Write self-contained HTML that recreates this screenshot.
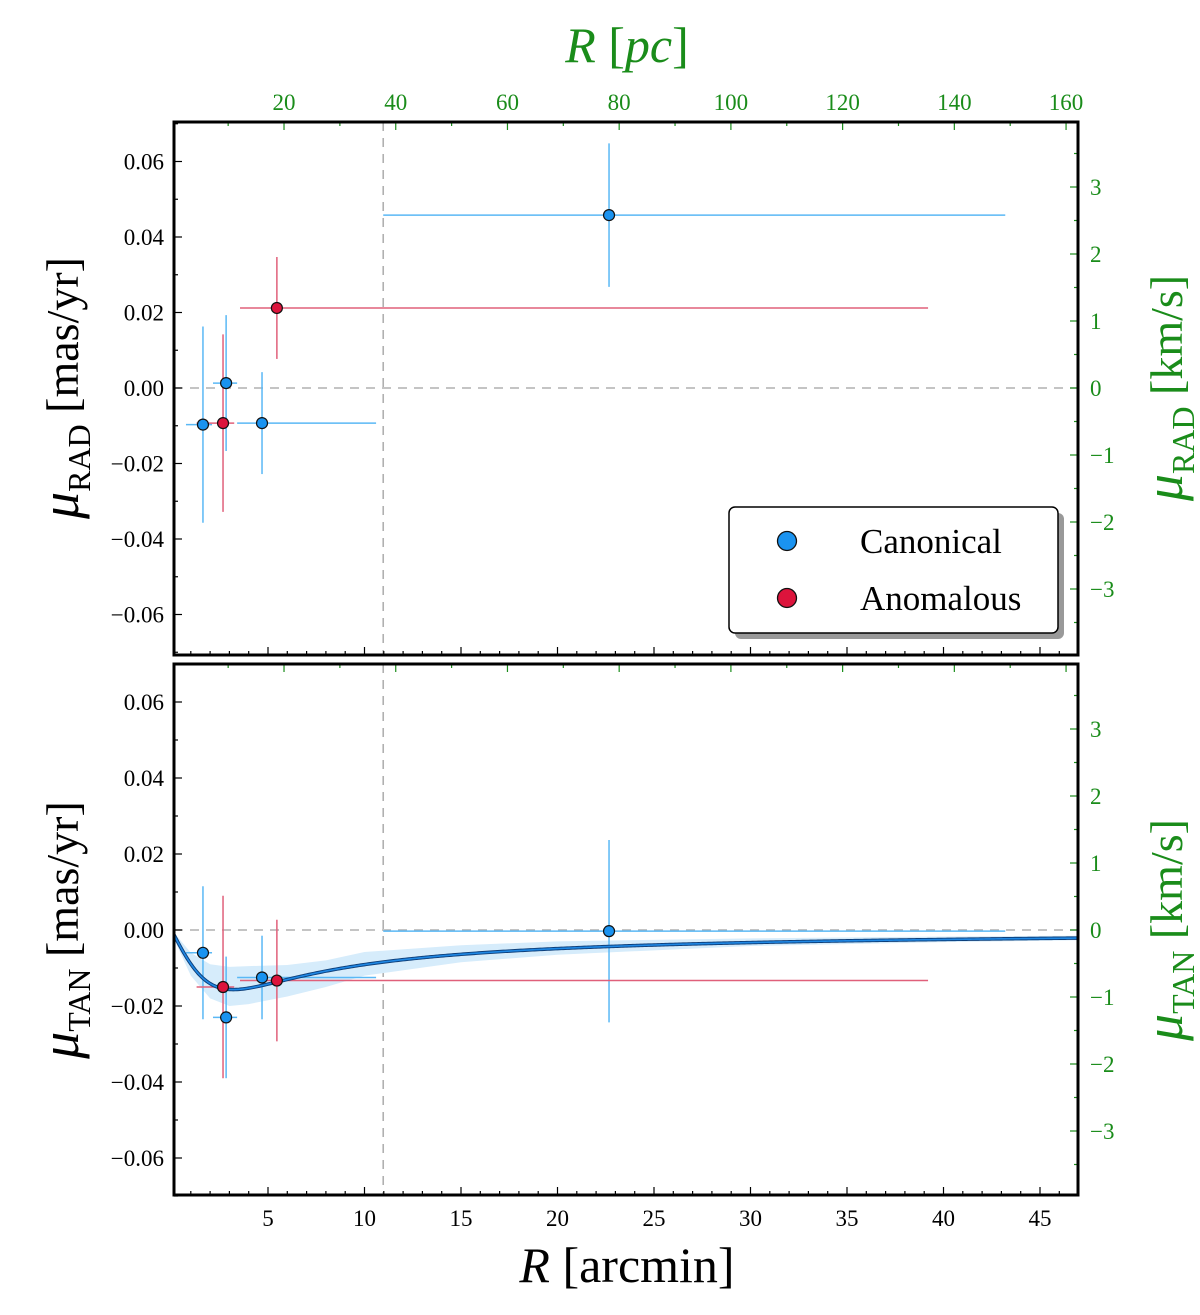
<!DOCTYPE html>
<html><head><meta charset="utf-8"><style>
body{margin:0;background:#fff}
svg text{font-family:"Liberation Serif",serif}
</style></head><body>
<svg id="c" width="1200" height="1310" xmlns="http://www.w3.org/2000/svg"></svg>
<script>
// ---- data ----
const canonR=[1.63,2.83,4.69,22.67];
const canonRlo=[0.75,2.15,3.4,10.97];
const canonRhi=[2.1,3.4,10.6,43.2];
const canonRad=[-0.0097,0.0013,-0.0093,0.0458];
const canonRadErr=[0.026,0.018,0.0135,0.019];
const canonTan=[-0.006,-0.023,-0.0125,-0.0003];
const canonTanErr=[0.0175,0.016,0.011,0.024];
const anomR=[2.67,5.46];
const anomRlo=[1.3,3.55];
const anomRhi=[3.25,39.2];
const anomRad=[-0.0093,0.0212];
const anomRadErr=[0.0235,0.0135];
const anomTan=[-0.015,-0.0133];
const anomTanErr=[0.024,0.016];
const bandR=[0.1,1,2,3,4,6,8,10,15,20,30,40,47];
const bandLo=[-0.002,-0.012,-0.018,-0.020,-0.0195,-0.0175,-0.015,-0.012,-0.0085,-0.0065,-0.0042,-0.0032,-0.0027];
const bandHi=[-0.0005,-0.006,-0.009,-0.0097,-0.0095,-0.0092,-0.008,-0.0058,-0.004,-0.003,-0.0022,-0.0017,-0.0015];
const modelK=[0.0098];
const modelRc=[3.2];
const xTicks=[5,10,15,20,25,30,35,40,45];
const pcTicks=[20,40,60,80,100,120,140,160];
const yTicks=[0.06,0.04,0.02,0.00,-0.02,-0.04,-0.06];
const yTickLabels=["0.06","0.04","0.02","0.00","\u22120.02","\u22120.04","\u22120.06"];
const kmsTicks=[3,2,1,0,-1,-2,-3];
const kmsLabels=["3","2","1","0","\u22121","\u22122","\u22123"];

const svg=document.getElementById('c');
const NS='http://www.w3.org/2000/svg';
function el(t,a,p){const e=document.createElementNS(NS,t);for(const k in a)e.setAttribute(k,a[k]);(p||svg).appendChild(e);return e;}
const L=174,R=1078;
const X=r=>171.5+r*19.3;
const PC=p=>172.3+p*5.586;
const panels=[{top:122,bot:655,c:388,s:3775,kc:388,ks:67,name:'rad'},{top:664,bot:1195,c:930,s:3800,kc:930,ks:67,name:'tan'}];
const BLUE='#1a93f0',RED='#dc143c',EBLUE='#5ab8f5',ERED='#e0607a',GREEN='#1a8c1a';

panels.forEach((P,pi)=>{
  const Y=v=>P.c-v*P.s;
  const K=v=>P.kc-v*P.ks;
  const g=el('g',{});
  
  
  const cp=el('clipPath',{id:'cp'+pi},g);el('rect',{x:L,y:P.top,width:R-L,height:P.bot-P.top},cp);
  const inner=el('g',{'clip-path':'url(#cp'+pi+')'},g);
  const z=el('line',{x1:L,x2:R,y1:Y(0),y2:Y(0),stroke:'#b0b0b0','stroke-width':1.6,'stroke-dasharray':'9,7'},inner);
  
  
  const vl=el('line',{x1:X(10.97),x2:X(10.97),y1:P.top,y2:P.bot,stroke:'#b0b0b0','stroke-width':1.6,'stroke-dasharray':'9,7'},inner);
  
  
  if(pi===1){
    let d='';
    bandR.forEach((r,i)=>{d+=(i?'L':'M')+X(r)+','+Y(bandHi[i]);});
    for(let i=bandR.length-1;i>=0;i--)d+='L'+X(bandR[i])+','+Y(bandLo[i]);
    const b=el('path',{d:d+'Z',fill:'#d6ecfb'},inner);
    
    
  }
  const vals=pi?[canonTan,canonTanErr,anomTan,anomTanErr]:[canonRad,canonRadErr,anomRad,anomRadErr];
  function series(rs,lo,hi,v,e,ec,nm){
    rs.forEach((r,i)=>{
      const a=el('line',{x1:X(lo[i]),x2:X(hi[i]),y1:Y(v[i]),y2:Y(v[i]),stroke:ec,'stroke-width':1.5},inner);
      
      
      const b=el('line',{x1:X(r),x2:X(r),y1:Y(v[i]+e[i]),y2:Y(v[i]-e[i]),stroke:ec,'stroke-width':1.5},inner);
      
      
    });
  }
  function pts(rs,v,fc,nm){
    rs.forEach((r,i)=>{
      const c=el('circle',{cx:X(r),cy:Y(v[i]),r:5.5,fill:fc,stroke:'#111','stroke-width':1.2},inner);
      
      
    });
  }
  series(canonR,canonRlo,canonRhi,vals[0],vals[1],EBLUE,'canonical');
  series(anomR,anomRlo,anomRhi,vals[2],vals[3],ERED,'anomalous');
  if(pi===1){
    let d='';
    for(let r=0.1;r<=47.5;r+=0.1){const v=-modelK[0]*r/(1+(r/modelRc[0])**2);d+=(d?'L':'M')+X(r)+','+Y(v);}
    const m1=el('path',{d,fill:'none',stroke:'#0d3f7a','stroke-width':3.5},inner);
    
    
    const m=el('path',{d,fill:'none',stroke:'#1f88e5','stroke-width':1.6},inner);
    
    
  }
  pts(canonR,vals[0],BLUE,'canonical');
  pts(anomR,vals[2],RED,'anomalous');
  const tk=el('g',{stroke:'#000','stroke-width':1.2},g);
  for(let r=1;r<=47;r++){const len=r%5===0?8:4;el('line',{x1:X(r),x2:X(r),y1:P.bot,y2:P.bot-len},tk);}
  const gt=el('g',{stroke:GREEN,'stroke-width':1.2},g);
  for(let p=10;p<=160;p+=10){const len=p%20===0?8:4;el('line',{x1:PC(p),x2:PC(p),y1:P.top,y2:P.top+len},gt);}
  for(let v=-0.07;v<=0.0701;v+=0.01){const vv=Math.round(v*100);const len=vv%2===0?8:4;el('line',{x1:L,x2:L+len,y1:Y(vv/100),y2:Y(vv/100)},tk);}
  for(let k=-3.5;k<=3.51;k+=0.5){const len=Math.abs(k%1)<0.01?8:4;el('line',{x1:R,x2:R-len,y1:K(k),y2:K(k)},gt);}
  yTicks.forEach((v,i)=>{const t=el('text',{x:L-10,y:Y(v)+8,'text-anchor':'end','font-size':23},g);t.textContent=yTickLabels[i];
    
    });
  kmsTicks.forEach((v,i)=>{const t=el('text',{x:R+12,y:K(v)+8,'font-size':23,fill:GREEN},g);t.textContent=kmsLabels[i];
    
    });
  const fr=el('rect',{x:L,y:P.top,width:R-L,height:P.bot-P.top,fill:'none',stroke:'#000','stroke-width':3},g);
  
  
  const sub=pi?'TAN':'RAD';
  const yl=el('text',{transform:`translate(78,${P.c}) rotate(-90)`,'text-anchor':'middle','font-size':46},g);
  yl.innerHTML=`<tspan font-style="italic" font-size="54">μ</tspan><tspan font-size="32" dy="12">${sub}</tspan><tspan dy="-12"> [mas/yr]</tspan>`;
  
  
  const yr=el('text',{transform:`translate(1182,${P.c}) rotate(-90)`,'text-anchor':'middle','font-size':46,fill:GREEN},g);
  yr.innerHTML=`<tspan font-style="italic" font-size="54">μ</tspan><tspan font-size="32" dy="12">${sub}</tspan><tspan dy="-12"> [km/s]</tspan>`;
  
  
});
xTicks.forEach(r=>{const t=el('text',{x:X(r),y:1226,'text-anchor':'middle','font-size':23});t.textContent=r;
  
  });
pcTicks.forEach(p=>{const t=el('text',{x:PC(p),y:110,'text-anchor':'middle','font-size':23,fill:GREEN});t.textContent=p;
  
  });
const xt=el('text',{x:627,y:1282,'text-anchor':'middle','font-size':50});
xt.innerHTML='<tspan font-style="italic">R</tspan> [arcmin]';


const pt=el('text',{x:627,y:62,'text-anchor':'middle','font-size':50,fill:GREEN});
pt.innerHTML='<tspan font-style="italic">R</tspan> [<tspan font-style="italic">pc</tspan>]';


const lg=el('g',{});


el('rect',{x:735,y:513,width:329,height:126,rx:6,fill:'#999'},lg);
el('rect',{x:729,y:507,width:329,height:126,rx:6,fill:'#fff',stroke:'#000','stroke-width':1.5},lg);
[['Canonical',BLUE,541],['Anomalous',RED,598]].forEach(([n,c,y])=>{
  const m=el('circle',{cx:787,cy:y,r:9.5,fill:c,stroke:'#111','stroke-width':1.3},lg);
  
  
  const t=el('text',{x:860,y:y+12,'font-size':35},lg);t.textContent=n;
  
  
});
</script>
</body></html>
